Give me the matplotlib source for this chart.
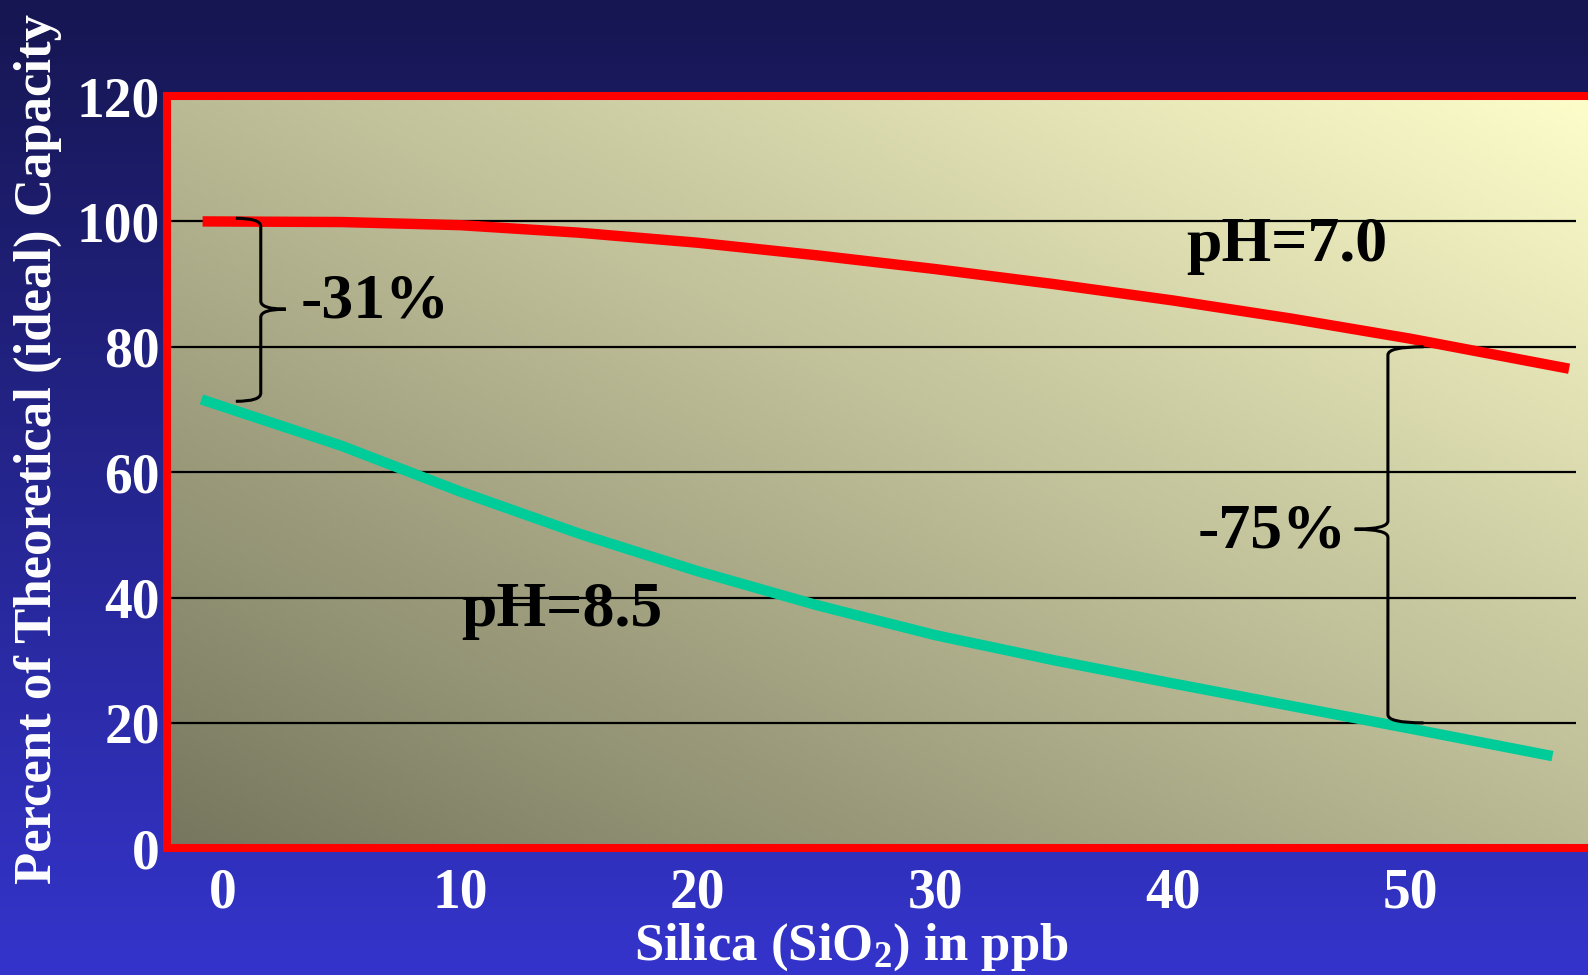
import numpy as np
import matplotlib.pyplot as plt
from matplotlib.path import Path
from matplotlib.patches import PathPatch
from matplotlib.colors import to_rgb

plt.rcParams['font.family'] = ['Liberation Serif', 'DejaVu Serif']
plt.rcParams['font.weight'] = 'bold'
plt.rcParams['mathtext.default'] = 'regular'

# data
silica_ph70 = [-0.85, 5, 10, 15, 20, 25, 30, 35, 40, 45, 50, 56.7]
capacity_ph70 = [100, 99.9, 99.4, 98.2, 96.6, 94.6, 92.4, 90.0, 87.4, 84.5, 81.3, 76.5]
silica_ph85 = [-0.9, 5, 10, 15, 20, 25, 30, 35, 40, 45, 50, 56.0]
capacity_ph85 = [71.6, 64.2, 56.9, 50.2, 44.2, 38.8, 34.0, 30.0, 26.3, 22.7, 19.1, 14.7]
x_ticks = [0, 10, 20, 30, 40, 50]
y_ticks = [0, 20, 40, 60, 80, 100, 120]


def gradient(c0, c1, t):
    a = np.array(to_rgb(c0))
    b = np.array(to_rgb(c1))
    return a + (b - a) * t[..., None]


def brace(ax, x, y0, y1, ytip, hook, tip, ry, d):
    # d=+1 -> tip points right, hooks to the left
    verts = [(x - d * hook, y1), (x, y1), (x, y1 - ry), (x, ytip + ry),
             (x, ytip), (x + d * tip, ytip), (x, ytip), (x, ytip - ry),
             (x, y0 + ry), (x, y0), (x - d * hook, y0)]
    codes = [Path.MOVETO, Path.CURVE3, Path.CURVE3, Path.LINETO,
             Path.CURVE3, Path.CURVE3, Path.CURVE3, Path.CURVE3,
             Path.LINETO, Path.CURVE3, Path.CURVE3]
    ax.add_patch(PathPatch(Path(verts, codes), fill=False, ec='black',
                           lw=2.2, zorder=4))


fig = plt.figure(figsize=(15.88, 9.75), dpi=100)

# figure background (vertical navy -> blue)
bg = fig.add_axes([0, 0, 1, 1], zorder=-10)
tv = np.linspace(0, 1, 256)[:, None] * np.ones((1, 4))
bg.imshow(gradient('#161652', '#3434cc', tv), aspect='auto', extent=(0, 1, 0, 1))
bg.axis('off')

ax = fig.add_axes([0.105, 0.130, 0.91, 0.7715])
ax.set_facecolor('none')

# plot area gradient (dark olive bottom-left -> light yellow top-right)
u = np.linspace(0, 1, 300)[None, :]
v = np.linspace(1, 0, 200)[:, None]
ax.imshow(gradient('#76765e', '#ffffcc', (u + v) / 2), aspect='auto',
          extent=(0, 1, 0, 1), transform=ax.transAxes, zorder=0)

ax.hlines(y_ticks[1:-1], -2.4, 57.0, colors='black', lw=1.6, zorder=1)

ax.plot(silica_ph70, capacity_ph70, color='#ff0000', lw=7.5,
        solid_capstyle='butt', solid_joinstyle='round', zorder=3)
ax.plot(silica_ph85, capacity_ph85, color='#00cc99', lw=7.5,
        solid_capstyle='butt', solid_joinstyle='round', zorder=3)

brace(ax, 1.6, 71.3, 100.5, 86.0, 1.05, 1.05, 1.3, 1)
brace(ax, 49.07, 20.0, 80.0, 50.9, 1.5, 1.4, 1.3, -1)

txt = dict(color='black', fontsize=46, ha='center', va='center', zorder=5)
ax.text(6.4, 87.1, '-31%', **txt)
ax.text(44.8, 96.1, 'pH=7.0', **txt)
ax.text(44.2, 50.4, '-75%', **txt)
ax.text(14.3, 37.8, 'pH=8.5', **txt)

ax.set_xlim(-2.36, 58.5)
ax.set_ylim(0, 120)
ax.set_xticks(x_ticks)
ax.set_yticks(y_ticks)
ax.tick_params(axis='both', length=0, labelsize=40, labelcolor='white')
ax.tick_params(axis='x', pad=14)
ax.tick_params(axis='y', pad=5)
for s in ax.spines.values():
    s.set_color('#ff0000')
    s.set_linewidth(5.8)

fig.text(0.0236, 0.54, 'Percent of Theoretical (ideal) Capacity', color='white',
         fontsize=38, rotation=90, ha='center', va='center')
fig.text(0.536, 0.029, 'Silica (SiO$_2$) in ppb', color='white',
         fontsize=38, ha='center', va='center')

fig.savefig('out.png', dpi=100)
